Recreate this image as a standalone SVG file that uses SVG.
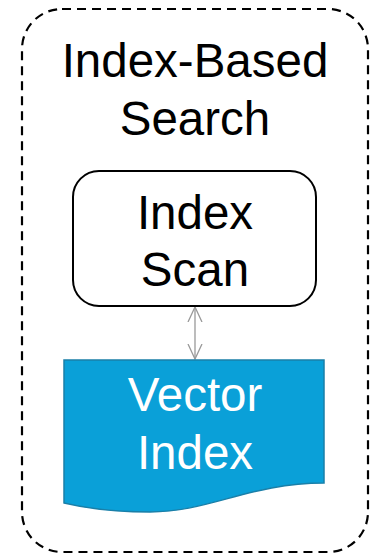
<svg xmlns="http://www.w3.org/2000/svg" width="372" height="556" viewBox="0 0 372 556">
<defs>
<style>
.t{font-family:"Liberation Sans",Arial,sans-serif;font-size:47.5px;text-anchor:middle}
</style>
<marker id="ah" viewBox="0 0 16 16" refX="15" refY="8" markerWidth="16" markerHeight="16" markerUnits="userSpaceOnUse" orient="auto-start-reverse">
<path d="M0,1 L15,8 L0,15" fill="none" stroke="#999" stroke-width="1.3"/>
</marker>
</defs>
<rect width="372" height="556" fill="#fff"/>
<g id="group-index-based-search">
<rect x="22" y="9" width="346" height="543" rx="40" fill="none" stroke="#000" stroke-width="2.2" stroke-dasharray="9,6"/>
<text class="t" x="195" y="77">Index-Based</text>
<text class="t" x="195" y="135">Search</text>
</g>
<g id="connectors">
<line x1="195" y1="307" x2="195" y2="359" stroke="#999" stroke-width="1.3" marker-start="url(#ah)" marker-end="url(#ah)"/>
</g>
<g id="index-scan">
<rect x="73" y="171" width="243" height="135" rx="26" fill="#fff" stroke="#000" stroke-width="2"/>
<text class="t" x="195" y="229">Index</text>
<text class="t" x="195" y="286">Scan</text>
</g>
<g id="vector-index">
<path d="M64,360 H324 V483 C250,483 210,512 150,512 C110,512 85,508 64,503 Z" fill="#0AA0D8" stroke="#1A7FA8" stroke-width="1.5"/>
<text class="t" x="195" y="411" fill="#fff">Vector</text>
<text class="t" x="195" y="469" fill="#fff">Index</text>
</g>
</svg>
